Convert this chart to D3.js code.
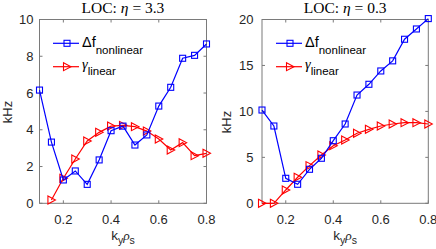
<!DOCTYPE html>
<html><head><meta charset="utf-8">
<script src="https://cdn.jsdelivr.net/npm/d3@7"></script>
<style>body{margin:0;background:#fff}svg{display:block}</style>
</head><body>
<svg id="c" width="436" height="249"></svg>
<script>
const ky = [0.1,0.15,0.2,0.25,0.3,0.35,0.4,0.45,0.5,0.55,0.6,0.65,0.7,0.75,0.8];
const dfLeft = [6.16,3.33,1.27,1.76,1.03,2.36,3.95,4.2,3.17,3.72,5.29,6.31,7.89,8.05,8.67];
const gLeftX = [0.15,0.2,0.25,0.3,0.35,0.4,0.45,0.5,0.55,0.6,0.65,0.7,0.75,0.8];
const gLeft = [0.18,1.36,2.41,3.39,3.86,4.2,4.24,4.17,3.93,3.5,2.9,3.3,2.59,2.72];
const dfRight = [10.15,8.41,2.72,2.07,3.7,4.9,6.81,8.63,11.78,12.95,14.4,15.5,17.85,18.97,20.1];
const gRight = [0,0,1.45,2.83,4.1,5.26,6.27,6.89,7.62,8.05,8.41,8.63,8.77,8.77,8.63];
const xTicks = [0.2,0.4,0.6,0.8];
const yTicksLeft = [0,2,4,6,8,10];
const yTicksRight = [0,5,10,15,20];
const titles = ["3.3","0.3"];

const svg = d3.select("#c");
const panels = [
  {x0:39.5,x1:206.5,ymax:10,yt:yTicksLeft,df:dfLeft,gx:gLeftX,g:gLeft,title:titles[0],ylx:7,yly:112,legX:53},
  {x0:262,x1:428.3,ymax:20,yt:yTicksRight,df:dfRight,gx:ky,g:gRight,title:titles[1],ylx:226,yly:122,legX:276}
];
const yTop=19.5, yBot=203.3;
const axisCol="#7a7a7a";
const sans="'Liberation Sans', Arial, Helvetica, sans-serif";
const serif="'Liberation Serif','Times New Roman',serif";

function square(g, x, y, col){
  g.append("rect").attr("x",x-3).attr("y",y-3).attr("width",6).attr("height",6)
   .attr("fill","none").attr("stroke",col).attr("stroke-width",1.1);
}
function tri(g, x, y, col){
  g.append("path").attr("d",`M${x-3.5},${y-4}L${x+4},${y}L${x-3.5},${y+4}Z`)
   .attr("fill","none").attr("stroke",col).attr("stroke-width",1.1);
}

panels.forEach(p=>{
  const x = d3.scaleLinear().domain([0.1,0.8]).range([p.x0,p.x1]);
  const y = d3.scaleLinear().domain([0,p.ymax]).range([yBot,yTop]);
  const g = svg.append("g");
  g.append("rect").attr("x",p.x0).attr("y",yTop).attr("width",p.x1-p.x0).attr("height",yBot-yTop)
   .attr("fill","none").attr("stroke",axisCol).attr("stroke-width",1);
  xTicks.forEach(t=>{
    g.append("line").attr("x1",x(t)).attr("x2",x(t)).attr("y1",yBot).attr("y2",yBot-3).attr("stroke",axisCol);
    g.append("line").attr("x1",x(t)).attr("x2",x(t)).attr("y1",yTop).attr("y2",yTop+3).attr("stroke",axisCol);
    g.append("text").attr("x",x(t)).attr("y",224).attr("text-anchor","middle")
     .attr("font-family",sans).attr("font-size",13).attr("fill","#262626").text(d3.format(".1f")(t));
  });
  p.yt.forEach(t=>{
    g.append("line").attr("x1",p.x0).attr("x2",p.x0+3).attr("y1",y(t)).attr("y2",y(t)).attr("stroke",axisCol);
    g.append("line").attr("x1",p.x1).attr("x2",p.x1-3).attr("y1",y(t)).attr("y2",y(t)).attr("stroke",axisCol);
    g.append("text").attr("x",p.x0-(p.ymax>10?8.5:6)).attr("y",y(t)+4.6).attr("text-anchor","end")
     .attr("font-family",sans).attr("font-size",13).attr("fill","#262626").text(t);
  });
  const tt = g.append("text").attr("x",(p.x0+p.x1)/2).attr("y",12.5).attr("text-anchor","middle")
   .attr("font-family",serif).attr("font-size",15.5).attr("fill","#000");
  tt.append("tspan").text("LOC: ");
  tt.append("tspan").attr("font-style","italic").text("η");
  tt.append("tspan").text(" = "+p.title);
  g.append("text").attr("transform",`translate(${p.ylx+4.5},${p.yly}) rotate(-90)`).attr("text-anchor","middle")
   .attr("font-family",sans).attr("font-size",13).attr("fill","#262626").text("kHz");
  const xl = g.append("text").attr("x",(p.x0+p.x1)/2).attr("y",240).attr("text-anchor","middle")
   .attr("font-family",sans).attr("font-size",13.5).attr("fill","#262626");
  xl.append("tspan").text("k");
  xl.append("tspan").attr("font-size",10.5).attr("dy",4).text("y");
  xl.append("tspan").attr("dy",-4).attr("font-family",serif).attr("font-style","italic").text("ρ");
  xl.append("tspan").attr("font-size",10.5).attr("dy",4).text("s");

  const line = d3.line().x(d=>x(d[0])).y(d=>y(d[1]));
  const dfPts = ky.map((k,i)=>[k,p.df[i]]);
  const gPts = p.gx.map((k,i)=>[k,p.g[i]]);
  g.append("path").datum(gPts).attr("d",line).attr("fill","none").attr("stroke","#ff0000").attr("stroke-width",1.2);
  gPts.forEach(d=>tri(g,x(d[0]),y(d[1]),"#ff0000"));
  g.append("path").datum(dfPts).attr("d",line).attr("fill","none").attr("stroke","#0000ff").attr("stroke-width",1.2);
  dfPts.forEach(d=>square(g,x(d[0]),y(d[1]),"#0000ff"));

  const lx = p.legX, lw = 26;
  g.append("line").attr("x1",lx).attr("x2",lx+lw).attr("y1",43.3).attr("y2",43.3).attr("stroke","#0000ff").attr("stroke-width",1.2);
  square(g,lx+lw/2+1,43.3,"#0000ff");
  g.append("line").attr("x1",lx).attr("x2",lx+lw).attr("y1",66.7).attr("y2",66.7).attr("stroke","#ff0000").attr("stroke-width",1.2);
  tri(g,lx+lw/2+1,66.7,"#ff0000");
  const t1 = g.append("text").attr("x",lx+29).attr("y",47).attr("font-family",sans).attr("font-size",14.5).attr("fill","#000");
  t1.append("tspan").text("Δf");
  t1.append("tspan").attr("font-size",11.5).attr("dy",7).text("nonlinear");
  const t2 = g.append("text").attr("x",lx+29).attr("y",69).attr("font-family",serif).attr("font-size",14.5).attr("fill","#000");
  t2.append("tspan").attr("font-style","italic").text("γ");
  t2.append("tspan").attr("font-family",sans).attr("font-size",11.5).attr("dy",6).text("linear");
});
</script>
</body></html>
